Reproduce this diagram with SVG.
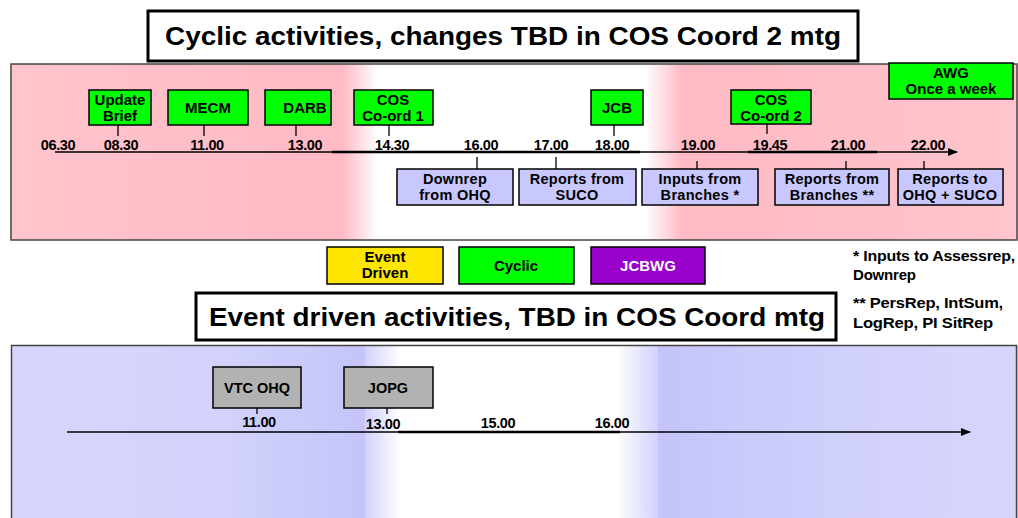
<svg xmlns="http://www.w3.org/2000/svg" width="1018" height="518" viewBox="0 0 1018 518">
<defs>
  <marker id="arr" markerWidth="10" markerHeight="10" refX="9" refY="5" orient="auto" markerUnits="userSpaceOnUse">
    <path d="M0,1 L10,5 L0,9 Z" fill="#000"/>
  </marker>
  <linearGradient id="pinkL" x1="0" x2="1" y1="0" y2="0">
    <stop offset="0" stop-color="#FFC4CC"/>
    <stop offset="1" stop-color="#FFBAC4"/>
  </linearGradient>
  <linearGradient id="pinkR" x1="0" x2="1" y1="0" y2="0">
    <stop offset="0" stop-color="#FFBAC4"/>
    <stop offset="1" stop-color="#FFC4CC"/>
  </linearGradient>
  <linearGradient id="blueL" x1="0" x2="1" y1="0" y2="0">
    <stop offset="0" stop-color="#D6D6FC"/>
    <stop offset="0.6" stop-color="#D2D2FC"/>
    <stop offset="1" stop-color="#C4C4FA"/>
  </linearGradient>
  <linearGradient id="blueR" x1="0" x2="1" y1="0" y2="0">
    <stop offset="0" stop-color="#C4C4FA"/>
    <stop offset="0.5" stop-color="#D0D0FC"/>
    <stop offset="1" stop-color="#D6D6FC"/>
  </linearGradient>
  <linearGradient id="fadeL" x1="0" x2="1" y1="0" y2="0">
    <stop offset="0" stop-color="#fff" stop-opacity="0"/>
    <stop offset="1" stop-color="#fff" stop-opacity="0.9"/>
  </linearGradient>
  <linearGradient id="fadeR" x1="0" x2="1" y1="0" y2="0">
    <stop offset="0" stop-color="#fff" stop-opacity="0.9"/>
    <stop offset="1" stop-color="#fff" stop-opacity="0"/>
  </linearGradient>
</defs>
<style>
  text { font-family: "Liberation Sans", Arial, sans-serif; fill: #000; }
  .title { font-size: 25px; font-weight: bold; text-anchor: middle; }
  .time { font-size: 14.5px; font-weight: bold; text-anchor: middle; letter-spacing: -0.4px; }
  .lbl { font-size: 15px; font-weight: bold; text-anchor: middle; }
  .lblb { font-size: 14.5px; font-weight: bold; text-anchor: middle; letter-spacing: 0.3px; }
  .lblg { font-size: 14.5px; text-anchor: middle; font-weight: bold; }
  .note { font-size: 15px; font-weight: bold; letter-spacing: -0.2px; }
  .green { fill: #00FF00; stroke: #000; stroke-width: 1.5; }
  .blue { fill: #C8C8FF; stroke: #000; stroke-width: 1.5; }
  .gray { fill: #B2B2B2; stroke: #000; stroke-width: 1.5; }
  .tick { stroke: #000; stroke-width: 1.3; fill: none; }
  .axis { stroke: #000; stroke-width: 1.3; fill: none; }
  .axisB { stroke: #000; stroke-width: 2.5; fill: none; }
  .tbox { fill: #fff; stroke: #000; stroke-width: 3; }
</style>

<!-- Panels -->
<g id="panel-cyclic">
  <rect x="11" y="64" width="1006" height="176" fill="#FFBFC9"/>
  <rect x="11" y="64" width="334" height="176" fill="url(#pinkL)"/>
  <rect x="680" y="64" width="337" height="176" fill="url(#pinkR)"/>
  <rect x="345" y="64" width="30" height="176" fill="url(#fadeL)"/>
  <rect x="375" y="64" width="273" height="176" fill="#fff"/>
  <rect x="648" y="64" width="32" height="176" fill="url(#fadeR)"/>
  <rect x="11" y="64" width="1006" height="176" fill="none" stroke="#444" stroke-width="1.5"/>
</g>
<g id="panel-event">
  <rect x="11" y="345" width="1007" height="175" fill="#D2D2FC"/>
  <rect x="11" y="345" width="354" height="175" fill="url(#blueL)"/>
  <rect x="658" y="345" width="360" height="175" fill="url(#blueR)"/>
  <rect x="365" y="345" width="33" height="175" fill="url(#fadeL)"/>
  <rect x="398" y="345" width="222" height="175" fill="#fff"/>
  <rect x="620" y="345" width="38" height="175" fill="url(#fadeR)"/>
  <line x1="11" y1="345.5" x2="1017" y2="345.5" stroke="#444" stroke-width="1.5"/>
  <line x1="11.5" y1="345" x2="11.5" y2="518" stroke="#444" stroke-width="1.5"/>
  <line x1="1016.5" y1="345" x2="1016.5" y2="518" stroke="#444" stroke-width="1.5"/>
</g>

<!-- Titles -->
<g id="title-cyclic">
  <rect class="tbox" x="148" y="11" width="710" height="50"/>
  <text class="title" x="503" y="45" textLength="676" lengthAdjust="spacingAndGlyphs">Cyclic activities, changes TBD in COS Coord 2 mtg</text>
</g>
<g id="title-event">
  <rect class="tbox" x="196" y="293" width="640" height="47"/>
  <text class="title" x="517" y="326" textLength="616" lengthAdjust="spacingAndGlyphs">Event driven activities, TBD in COS Coord mtg</text>
</g>

<!-- Connectors: timelines and ticks -->
<g id="connectors">
  <line class="axis" x1="55" y1="152" x2="957" y2="152" marker-end="url(#arr)"/>
  <line class="axisB" x1="332" y1="152" x2="640" y2="152"/>
  <line class="axisB" x1="748" y1="152" x2="877" y2="152"/>
  <line class="tick" x1="118" y1="125" x2="118" y2="136"/>
  <line class="tick" x1="204" y1="125" x2="204" y2="136"/>
  <line class="tick" x1="296" y1="125" x2="296" y2="136"/>
  <line class="tick" x1="389" y1="125" x2="389" y2="136"/>
  <line class="tick" x1="614" y1="125" x2="614" y2="136"/>
  <line class="tick" x1="767" y1="124" x2="767" y2="134"/>
  <line class="tick" x1="477" y1="157" x2="477" y2="169"/>
  <line class="tick" x1="556" y1="157" x2="556" y2="169"/>
  <line class="tick" x1="697" y1="161" x2="697" y2="169"/>
  <line class="tick" x1="846" y1="161" x2="846" y2="169"/>
  <line class="tick" x1="924" y1="161" x2="924" y2="169"/>
  <line class="axis" x1="67" y1="432" x2="970" y2="432" marker-end="url(#arr)"/>
  <line class="axisB" x1="398" y1="432" x2="620" y2="432"/>
  <line class="tick" x1="257" y1="408" x2="257" y2="414"/>
  <line class="tick" x1="387" y1="408" x2="387" y2="414"/>
</g>

<!-- Time labels -->
<g id="times-cyclic">
  <text class="time" x="58" y="150">06.30</text>
  <text class="time" x="121" y="150">08.30</text>
  <text class="time" x="207" y="150">11.00</text>
  <text class="time" x="305" y="150">13.00</text>
  <text class="time" x="392" y="150">14.30</text>
  <text class="time" x="481" y="150">16.00</text>
  <text class="time" x="551" y="150">17.00</text>
  <text class="time" x="612" y="150">18.00</text>
  <text class="time" x="698" y="150">19.00</text>
  <text class="time" x="770" y="150">19.45</text>
  <text class="time" x="848" y="150">21.00</text>
  <text class="time" x="928" y="150">22.00</text>
</g>
<g id="times-event">
  <text class="time" x="259" y="427">11.00</text>
  <text class="time" x="383" y="429">13.00</text>
  <text class="time" x="498" y="428">15.00</text>
  <text class="time" x="612" y="428">16.00</text>
</g>

<!-- Cyclic nodes -->
<g id="node-update-brief">
  <rect class="green" x="89" y="90" width="62" height="35"/>
  <text class="lbl" x="120" y="105">Update</text>
  <text class="lbl" x="120" y="121">Brief</text>
</g>
<g id="node-mecm">
  <rect class="green" x="168" y="90" width="80" height="35"/>
  <text class="lbl" x="208" y="113">MECM</text>
</g>
<g id="node-darb">
  <rect class="green" x="265" y="90" width="66" height="35"/>
  <text class="lbl" x="305" y="113">DARB</text>
</g>
<g id="node-cos1">
  <rect class="green" x="354" y="90" width="79" height="35"/>
  <text class="lbl" x="393" y="105">COS</text>
  <text class="lbl" x="393" y="121">Co-ord 1</text>
</g>
<g id="node-jcb">
  <rect class="green" x="591" y="90" width="52" height="35"/>
  <text class="lbl" x="617" y="113">JCB</text>
</g>
<g id="node-cos2">
  <rect class="green" x="731" y="90" width="80" height="34"/>
  <text class="lbl" x="771" y="105">COS</text>
  <text class="lbl" x="771" y="121">Co-ord 2</text>
</g>
<g id="node-awg">
  <rect class="green" x="889" y="63" width="124" height="36"/>
  <text class="lbl" x="951" y="78">AWG</text>
  <text class="lbl" x="951" y="94">Once a week</text>
</g>
<g id="node-downrep">
  <rect class="blue" x="397" y="169" width="116" height="36"/>
  <text class="lblb" x="455" y="184">Downrep</text>
  <text class="lblb" x="455" y="200">from OHQ</text>
</g>
<g id="node-suco">
  <rect class="blue" x="519" y="169" width="117" height="36"/>
  <text class="lblb" x="577" y="184">Reports from</text>
  <text class="lblb" x="577" y="200">SUCO</text>
</g>
<g id="node-inputs">
  <rect class="blue" x="642" y="169" width="116" height="36"/>
  <text class="lblb" x="700" y="184">Inputs from</text>
  <text class="lblb" x="700" y="200">Branches *</text>
</g>
<g id="node-reports-branches">
  <rect class="blue" x="775" y="169" width="114" height="36"/>
  <text class="lblb" x="832" y="184">Reports from</text>
  <text class="lblb" x="832" y="200">Branches **</text>
</g>
<g id="node-reports-to">
  <rect class="blue" x="898" y="169" width="105" height="36"/>
  <text class="lblb" x="950" y="184">Reports to</text>
  <text class="lblb" x="950" y="200">OHQ + SUCO</text>
</g>

<!-- Legend -->
<g id="legend-event">
  <rect x="327" y="247" width="116" height="37" fill="#FFE600" stroke="#000" stroke-width="1.5"/>
  <text class="lbl" x="385" y="262">Event</text>
  <text class="lbl" x="385" y="278">Driven</text>
</g>
<g id="legend-cyclic">
  <rect x="459" y="247" width="115" height="37" fill="#00FF00" stroke="#000" stroke-width="1.5"/>
  <text class="lbl" x="516" y="271">Cyclic</text>
</g>
<g id="legend-jcbwg">
  <rect x="591" y="247" width="114" height="37" fill="#9900CC" stroke="#000" stroke-width="1.5"/>
  <text class="lbl" x="648" y="271" style="fill:#fff">JCBWG</text>
</g>

<!-- Footnotes -->
<g id="footnotes">
  <text class="note" x="853" y="261" textLength="162" lengthAdjust="spacingAndGlyphs">* Inputs to Assessrep,</text>
  <text class="note" x="853" y="280">Downrep</text>
  <text class="note" x="853" y="308" textLength="150" lengthAdjust="spacingAndGlyphs">** PersRep, IntSum,</text>
  <text class="note" x="853" y="328" textLength="140" lengthAdjust="spacingAndGlyphs">LogRep, PI SitRep</text>
</g>

<!-- Event-driven nodes -->
<g id="node-vtc">
  <rect class="gray" x="213" y="367" width="88" height="41"/>
  <text class="lblg" x="257" y="393">VTC OHQ</text>
</g>
<g id="node-jopg">
  <rect class="gray" x="344" y="367" width="89" height="41"/>
  <text class="lblg" x="388" y="393">JOPG</text>
</g>
</svg>
